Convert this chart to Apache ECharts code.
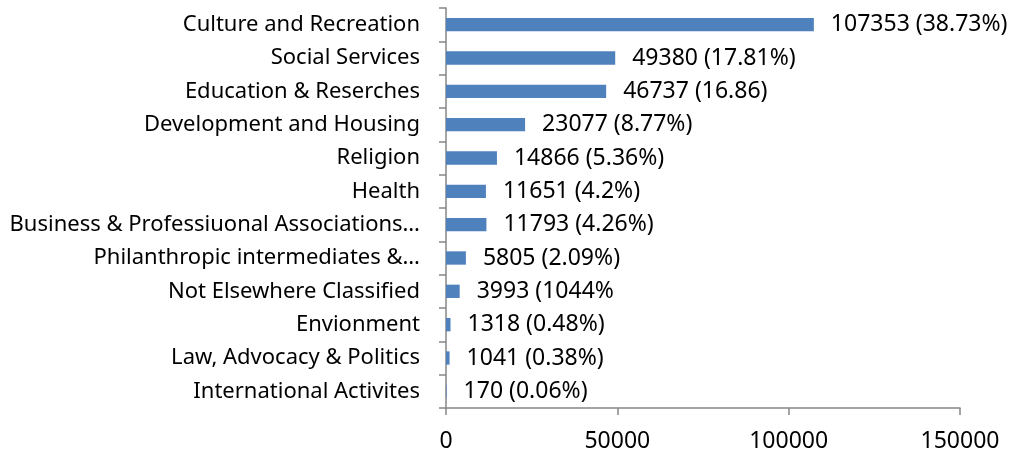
<!DOCTYPE html>
<html>
<head>
<meta charset="utf-8">
<script src="https://cdn.jsdelivr.net/npm/echarts@6/dist/echarts.min.js"></script>
<style>
  html, body { margin: 0; padding: 0; background: #fff; }
  #chart { width: 1017px; height: 455px; }
</style>
</head>
<body>
<div id="chart"></div>
<script>
// categories, top to bottom
const categories = [
  'Culture and Recreation',
  'Social Services',
  'Education & Reserches',
  'Development and Housing',
  'Religion',
  'Health',
  'Business & Professiuonal Associations…',
  'Philanthropic intermediates &…',
  'Not Elsewhere Classified',
  'Envionment',
  'Law, Advocacy & Politics',
  'International Activites'
]
const values = [107353, 49380, 46737, 23077, 14866, 11651, 11793, 5805, 3993, 1318, 1041, 170]
// percentage part of the data labels, as printed in the original
const shares = ['(38.73%)', '(17.81%)', '(16.86)', '(8.77%)', '(5.36%)', '(4.2%)', '(4.26%)', '(2.09%)', '(1044%', '(0.48%)', '(0.38%)', '(0.06%)']
const xTicks = [0, 50000, 100000, 150000]

const font = 'Noto Sans'
const axisGray = '#868686'

const chart = echarts.init(document.getElementById('chart'))
chart.setOption({
  animation: false,
  grid: {
    left: 446,
    right: 57,
    top: 8,
    bottom: 47,
    containLabel: false,
    outerBoundsMode: 'none'
  },
  xAxis: {
    type: 'value',
    min: xTicks[0],
    max: xTicks[xTicks.length - 1],
    interval: xTicks[1] - xTicks[0],
    axisLine: { show: true, lineStyle: { color: axisGray, width: 1.5 } },
    axisTick: { show: true, length: 7, lineStyle: { color: axisGray, width: 1.5 } },
    splitLine: { show: false },
    axisLabel: {
      color: '#000',
      fontFamily: font,
      fontSize: 23,
      margin: 22,
      formatter: v => String(v)
    }
  },
  yAxis: {
    type: 'category',
    inverse: true,
    data: categories,
    axisLine: { show: true, lineStyle: { color: axisGray, width: 1.5 } },
    axisTick: { show: true, length: 7, lineStyle: { color: axisGray, width: 1.5 } },
    axisLabel: { color: '#000', fontFamily: font, fontSize: 22, margin: 26 }
  },
  series: [{
    type: 'bar',
    data: values,
    barWidth: '40%',
    itemStyle: { color: '#4f81bd' },
    label: {
      show: true,
      position: 'right',
      distance: 17,
      color: '#000',
      fontFamily: font,
      fontSize: 23,
      formatter: p => p.value + ' ' + shares[p.dataIndex]
    }
  }]
})
</script>
</body>
</html>
